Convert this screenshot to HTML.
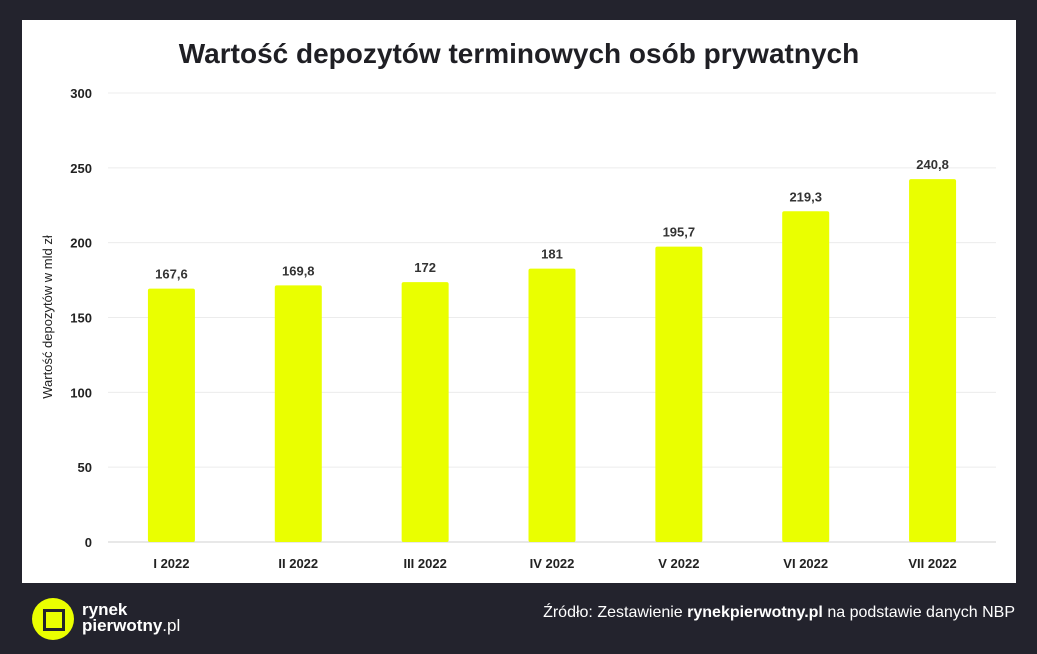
<!DOCTYPE html>
<html><head><meta charset="utf-8"><style>
body{margin:0;width:1037px;height:654px;background:#23232d;font-family:"Liberation Sans",sans-serif;overflow:hidden;position:relative}
.panel{position:absolute;left:22px;top:20px;width:994px;height:563px;background:#fff}
.title{position:absolute;left:22px;width:994px;top:38px;text-align:center;font-size:28px;font-weight:bold;color:#1f1f24}
svg{position:absolute;left:0;top:0}
</style></head><body>
<div class="panel"></div>
<div class="title">Wartość depozytów terminowych osób prywatnych</div>
<svg id="c" width="1037" height="654"></svg>
<div style="position:absolute;left:32px;top:598px;width:42px;height:42px;border-radius:50%;background:#eaff00">
 <div style="position:absolute;left:11px;top:11px;width:16px;height:16px;border:3px solid #23232d;background:#eaff00"></div>
 <div style="position:absolute;left:14px;top:14px;width:13px;height:13px;background:#eaff00"></div>
</div>
<div style="position:absolute;left:82px;top:602px;color:#fff;font-size:17px;line-height:16px;font-weight:bold">rynek<br>pierwotny<span style="font-weight:normal">.pl</span></div>
<div style="position:absolute;right:22px;top:604px;color:#fff;font-size:16px">Źródło: Zestawienie <b>rynekpierwotny.pl</b> na podstawie danych NBP</div>
<script>
const categories=["I 2022","II 2022","III 2022","IV 2022","V 2022","VI 2022","VII 2022"];
const values=[167.6,169.8,172,181,195.7,219.3,240.8];
const labels=["167,6","169,8","172","181","195,7","219,3","240,8"];
const ticks=[0,50,100,150,200,250,300];
const svg=document.getElementById('c');const NS='http://www.w3.org/2000/svg';
const y0=542,yTop=93,x0=108,x1=996;
const y=v=>y0-(v/300)*(y0-yTop);
const step=(x1-x0)/categories.length;
const x=i=>x0+step*(i+0.5);
function mk(t,a,txt){const e=document.createElementNS(NS,t);for(const k in a)e.setAttribute(k,a[k]);if(txt!==undefined)e.textContent=txt;svg.appendChild(e);return e;}
ticks.forEach(t=>{
 const g=mk('line',{x1:x0,x2:x1,y1:y(t),y2:y(t),stroke:t===0?'#d0d0d0':'#ececec','stroke-width':1});
 
 
 const l=mk('text',{x:92,y:y(t)+5,'text-anchor':'end','font-size':13,'font-weight':'bold',fill:'#222'},t);
 
 
});
const yt=mk('text',{x:0,y:0,transform:'translate(52,317) rotate(-90)','text-anchor':'middle','font-size':13,fill:'#222'},'Wartość depozytów w mld zł');


const bw=47;
values.forEach((v,i)=>{
 const top=y(v)-2.5;
 const r=mk('rect',{x:x(i)-bw/2,y:top,width:bw,height:y0-top,fill:'#eaff00',rx:2});
 
 
 const t=mk('text',{x:x(i),y:top-10,'text-anchor':'middle','font-size':13,'font-weight':'bold',fill:'#333'},labels[i]);
 
 
 const c=mk('text',{x:x(i),y:568,'text-anchor':'middle','font-size':13,'font-weight':'bold',fill:'#222'},categories[i]);
 
 
});
</script>
</body></html>
